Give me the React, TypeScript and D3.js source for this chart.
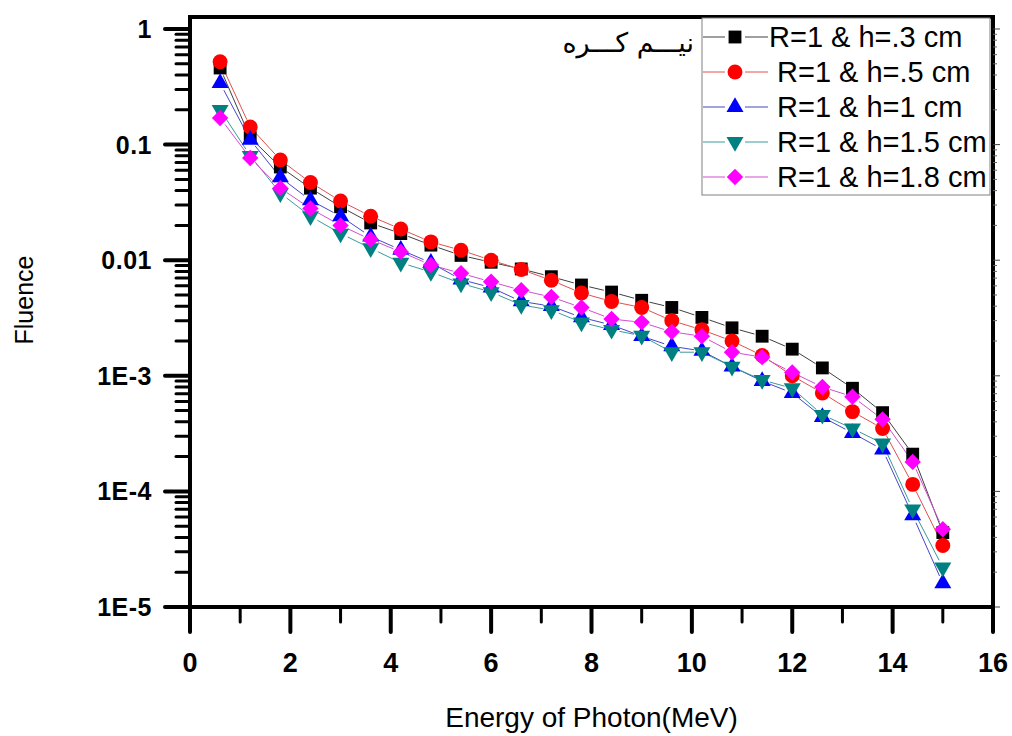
import React from "react";
import * as d3 from "d3";

const energy = [0.6, 1.2, 1.8, 2.4, 3.0, 3.6, 4.2, 4.8, 5.4, 6.0, 6.6, 7.2, 7.8, 8.4, 9.0, 9.6, 10.2, 10.8, 11.4, 12.0, 12.6, 13.2, 13.8, 14.4, 15.0];

const h03 = [0.46, 0.115, 0.064, 0.042, 0.029, 0.021, 0.017, 0.0135, 0.011, 0.0096, 0.0084, 0.0072, 0.0061, 0.0053, 0.0045, 0.0039, 0.0032, 0.0026, 0.0022, 0.0017, 0.00117, 0.00078, 0.00048, 0.00021, 0.000044];
const h05 = [0.52, 0.142, 0.0736, 0.047, 0.0325, 0.024, 0.0186, 0.0144, 0.0122, 0.01, 0.0083, 0.0067, 0.0052, 0.0044, 0.0039, 0.003, 0.0025, 0.002, 0.0015, 0.001, 0.00071, 0.00049, 0.00035, 0.000115, 0.000034];
const h10 = [0.34, 0.11, 0.052, 0.033, 0.024, 0.016, 0.0123, 0.0095, 0.0068, 0.0058, 0.0044, 0.004, 0.0032, 0.00275, 0.0022, 0.0018, 0.00164, 0.0012, 0.0009, 0.00071, 0.00044, 0.00032, 0.00023, 0.000062, 0.000016];
const h15 = [0.2, 0.08, 0.038, 0.024, 0.017, 0.0127, 0.0095, 0.0079, 0.0063, 0.0053, 0.0041, 0.0037, 0.0029, 0.0025, 0.00222, 0.0016, 0.0016, 0.0012, 0.00092, 0.00078, 0.00046, 0.00035, 0.00026, 0.00007, 0.000022];
const h18 = [0.17, 0.0766, 0.042, 0.028, 0.02, 0.0151, 0.0118, 0.0091, 0.0077, 0.0065, 0.0055, 0.0048, 0.0039, 0.0031, 0.0029, 0.0024, 0.0022, 0.0016, 0.00145, 0.00107, 0.0008, 0.00066, 0.00042, 0.00018, 0.000047];

const seriesNames = ["R=1 & h=.3 cm", "R=1 & h=.5 cm", "R=1 & h=1 cm", "R=1 & h=1.5 cm", "R=1 & h=1.8 cm"];
const yTickValues = [1, 0.1, 0.01, 1e-3, 1e-4, 1e-5];
const yTickLabels = ["1", "0.1", "0.01", "1E-3", "1E-4", "1E-5"];
const xTickValues = [0, 2, 4, 6, 8, 10, 12, 14, 16];

const styles = [
  { fill: "#000000", line: "#404040", shape: "square" },
  { fill: "#ff0000", line: "#e05050", shape: "circle" },
  { fill: "#0000ff", line: "#4646c8", shape: "triangle" },
  { fill: "#008080", line: "#3a9a9a", shape: "triangleDown" },
  { fill: "#ff00ff", line: "#d050d0", shape: "diamond" },
];

const W = 1012;
const H = 736;
const plot = { left: 190, right: 993, top: 17, bottom: 607 };

const x = d3.scaleLinear().domain([0, 16]).range([plot.left, plot.right]);
const y = d3.scaleLog().domain([1e-5, 1.27]).range([plot.bottom, plot.top]);

function symbolPath(shape: string) {
  switch (shape) {
    case "square":
      return { d: d3.symbol(d3.symbolSquare, 165)()!, rot: 0 };
    case "circle":
      return { d: d3.symbol(d3.symbolCircle, 175)()!, rot: 0 };
    case "triangle":
      return { d: d3.symbol(d3.symbolTriangle, 125)()!, rot: 0 };
    case "triangleDown":
      return { d: d3.symbol(d3.symbolTriangle, 125)()!, rot: 180 };
    default:
      return { d: d3.symbol(d3.symbolSquare, 135)()!, rot: 45 };
  }
}

function Marker({ cx, cy, shape, fill }: { cx: number; cy: number; shape: string; fill: string }) {
  const s = symbolPath(shape);
  return <path d={s.d} transform={`translate(${cx},${cy}) rotate(${s.rot})`} fill={fill} />;
}

export default function App() {
  const allSeries = [h03, h05, h10, h15, h18];
  const gap = 8;

  const minorY: number[] = [];
  for (let e = -5; e < 0; e++) {
    [2, 3, 4, 5, 6, 7, 8, 9].forEach((m) => minorY.push(m * Math.pow(10, e)));
  }
  const minorX = [1, 3, 5, 7, 9, 11, 13, 15];

  const legendRows = [37, 72, 107, 142, 177];

  return (
    <svg width={W} height={H} style={{ position: "absolute", left: 0, top: 0, background: "#fff" }} fontFamily="Arial, 'Liberation Sans', sans-serif">
      {/* series lines, broken near each symbol */}
      {allSeries.map((vals, si) => (
        <g key={"l" + si} stroke={styles[si].line} strokeWidth={1} fill="none">
          {vals.slice(1).map((v, i) => {
            const x1 = x(energy[i]), y1 = y(vals[i]);
            const x2 = x(energy[i + 1]), y2 = y(v);
            const len = Math.hypot(x2 - x1, y2 - y1);
            if (len <= gap * 2) return null;
            const ux = (x2 - x1) / len, uy = (y2 - y1) / len;
            return <line key={i} x1={x1 + ux * gap} y1={y1 + uy * gap} x2={x2 - ux * gap} y2={y2 - uy * gap} />;
          })}
        </g>
      ))}
      {allSeries.map((vals, si) => (
        <g key={"m" + si}>
          {vals.map((v, i) => (
            <Marker key={i} cx={x(energy[i])} cy={y(v)} shape={styles[si].shape} fill={styles[si].fill} />
          ))}
        </g>
      ))}

      {/* frame */}
      <rect x={plot.left} y={plot.top} width={plot.right - plot.left} height={plot.bottom - plot.top} fill="none" stroke="#000" strokeWidth={4} />

      {/* y ticks */}
      {yTickValues.map((v, i) => (
        <g key={"yt" + i}>
          <line x1={plot.left - 25} x2={plot.left} y1={y(v)} y2={y(v)} stroke="#000" strokeWidth={4} strokeLinecap="round" />
          <line x1={plot.right} x2={plot.right + 7} y1={y(v)} y2={y(v)} stroke="#444" strokeWidth={1} />
          <text x={plot.left - 38} y={y(v)} dy="0.36em" textAnchor="end" fontSize={25} fontWeight="bold" letterSpacing={0.5}>
            {yTickLabels[i]}
          </text>
        </g>
      ))}
      {minorY.map((v, i) => (
        <g key={"ym" + i}>
          <line x1={plot.left - 14} x2={plot.left} y1={y(v)} y2={y(v)} stroke="#000" strokeWidth={3} strokeLinecap="round" />
          <line x1={plot.right} x2={plot.right + 4} y1={y(v)} y2={y(v)} stroke="#666" strokeWidth={1} />
        </g>
      ))}

      {/* x ticks */}
      {xTickValues.map((v) => (
        <g key={"xt" + v}>
          <line x1={x(v)} x2={x(v)} y1={plot.bottom} y2={plot.bottom + 25} stroke="#000" strokeWidth={4} strokeLinecap="round" />
          <text x={x(v)} y={672} textAnchor="middle" fontSize={27} fontWeight="bold">
            {v}
          </text>
        </g>
      ))}
      {minorX.map((v) => (
        <line key={"xm" + v} x1={x(v)} x2={x(v)} y1={plot.bottom} y2={plot.bottom + 15} stroke="#000" strokeWidth={3} strokeLinecap="round" />
      ))}

      {/* axis titles */}
      <text x={(plot.left + plot.right) / 2} y={727} textAnchor="middle" fontSize={28}>
        Energy of Photon(MeV)
      </text>
      <text transform="translate(33,300) rotate(-90)" textAnchor="middle" fontSize={25}>
        Fluence
      </text>

      {/* legend */}
      <rect x={702} y={plot.top + 1} width={plot.right - 702 - 3} height={195 - plot.top - 1} fill="#fff" stroke="#808080" strokeWidth={1} />
      {seriesNames.map((name, i) => (
        <g key={"lg" + i}>
          <line x1={703} x2={768} y1={legendRows[i]} y2={legendRows[i]} stroke={styles[i].line} strokeWidth={1} />
          <rect x={725} y={legendRows[i] - 9} width={20} height={18} fill="#fff" />
          <Marker cx={735} cy={legendRows[i]} shape={styles[i].shape} fill={styles[i].fill} />
          <text x={i === 0 ? 769 : 777} y={legendRows[i]} dy="0.36em" fontSize={29}>
            {name}
          </text>
        </g>
      ))}

      {/* Arabic label, left of the legend */}
      <text x={694} y={52} textAnchor="end" fontSize={27} fontFamily="'DejaVu Sans', 'Noto Sans', sans-serif">
        نیـــم کـــره
      </text>
    </svg>
  );
}
